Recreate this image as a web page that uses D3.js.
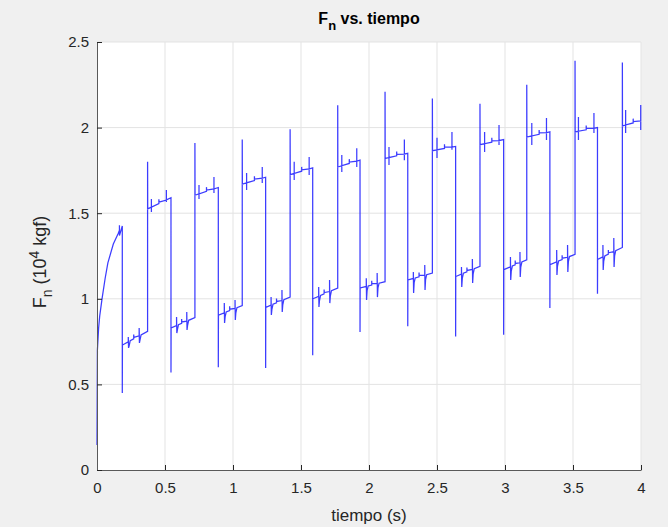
<!DOCTYPE html>
<html>
<head>
<meta charset="utf-8">
<script src="https://cdn.jsdelivr.net/npm/d3@7"></script>
<style>
  body { margin: 0; background: #f0f0f0; }
  svg { display: block; font-family: "Liberation Sans", Arial, Helvetica, sans-serif; }
</style>
</head>
<body>
<div id="chart"></div>
<script>
// initial ramp (s, 10^4 kgf)
var rampT = [0, 0.003, 0.012, 0.02, 0.037, 0.06, 0.08, 0.12, 0.155, 0.165, 0.165, 0.165, 0.186];
var rampV = [0.146, 0.70, 0.83, 0.90, 1.00, 1.12, 1.21, 1.32, 1.38, 1.40, 1.43, 1.37, 1.425];

// switching instants and the spike reached at each switch
var switchT = [0.186, 0.372, 0.544, 0.72, 0.892, 1.068, 1.24, 1.42, 1.586, 1.77, 1.934,
               2.118, 2.285, 2.466, 2.637, 2.816, 2.99, 3.16, 3.33, 3.515, 3.68, 3.863];
var spikeV = [0.45, 1.80, 0.57, 1.91, 0.60, 1.93, 0.596, 1.99, 0.67, 2.13, 0.806,
              2.21, 0.84, 2.17, 0.78, 2.14, 0.79, 2.25, 0.946, 2.39, 1.03, 2.38];

// level at the start and end of each segment following a switch
var segStart = [0.73, 1.525, 0.83, 1.605, 0.905, 1.67, 0.95, 1.725, 1.00, 1.77, 1.063,
                1.82, 1.11, 1.865, 1.13, 1.90, 1.17, 1.945, 1.20, 1.975, 1.23, 2.01];
var segEnd = [0.81, 1.59, 0.89, 1.65, 0.96, 1.71, 1.01, 1.765, 1.063, 1.81, 1.10,
              1.85, 1.15, 1.89, 1.19, 1.93, 1.227, 1.975, 1.26, 2.00, 1.30, 2.04];

// two small disturbances inside each segment: time, top, bottom
var tick1T = [0.23, 0.40, 0.585, 0.75, 0.936, 1.10, 1.28, 1.45, 1.63, 1.80, 1.98,
              2.147, 2.326, 2.50, 2.68, 2.85, 3.04, 3.197, 3.38, 3.54, 3.72, 3.887];
var tick1Top = [0.777, 1.583, 0.894, 1.665, 0.975, 1.735, 1.01, 1.80, 1.069, 1.84, 1.12,
                1.887, 1.157, 1.94, 1.186, 1.974, 1.244, 2.027, 1.285, 2.062, 1.314, 2.103];
var tick1Bot = [0.713, 1.507, 0.80, 1.583, 0.859, 1.636, 0.905, 1.694, 0.952, 1.74, 0.993,
                1.782, 1.034, 1.822, 1.069, 1.857, 1.11, 1.898, 1.139, 1.928, 1.168, 1.968];
var tick2T = [0.31, 0.51, 0.66, 0.86, 1.015, 1.215, 1.36, 1.56, 1.71, 1.91, 2.06,
              2.26, 2.41, 2.61, 2.76, 2.956, 3.11, 3.305, 3.46, 3.654, 3.80, 3.998];
var tick2Top = [0.83, 1.636, 0.923, 1.711, 0.993, 1.77, 1.051, 1.828, 1.11, 1.88, 1.15,
                1.93, 1.197, 1.974, 1.232, 2.015, 1.273, 2.056, 1.314, 2.085, 1.355, 2.132];
var tick2Bot = [0.742, 1.565, 0.818, 1.618, 0.876, 1.676, 0.923, 1.723, 0.975, 1.77, 1.01,
                1.81, 1.051, 1.87, 1.092, 1.898, 1.127, 1.928, 1.157, 1.968, 1.186, 1.986];

var xTicks = [0, 0.5, 1, 1.5, 2, 2.5, 3, 3.5, 4];
var yTicks = [0, 0.5, 1, 1.5, 2, 2.5];

var width = 668,
    height = 527,
    margin = {left: 97, right: 27, top: 42, bottom: 57};

var svg = d3.select('#chart')
    .append('svg')
    .attr('width', width)
    .attr('height', height);

svg.append('rect')
    .attr('width', width)
    .attr('height', height)
    .attr('fill', '#f0f0f0');

var x = d3.scaleLinear().domain([0, 4]).range([margin.left, width - margin.right]);
var y = d3.scaleLinear().domain([0, 2.5]).range([height - margin.bottom, margin.top]);

svg.append('rect')
    .attr('x', x(0))
    .attr('y', y(2.5))
    .attr('width', x(4) - x(0))
    .attr('height', y(0) - y(2.5))
    .attr('fill', '#fff');

// grid
svg.append('g').selectAll('line')
    .data(xTicks.slice(1))
    .enter().append('line')
    .attr('x1', function (d) { return x(d); })
    .attr('x2', function (d) { return x(d); })
    .attr('y1', y(0))
    .attr('y2', y(2.5))
    .attr('stroke', '#e3e3e3');

svg.append('g').selectAll('line')
    .data(yTicks.slice(1))
    .enter().append('line')
    .attr('x1', x(0))
    .attr('x2', x(4))
    .attr('y1', function (d) { return y(d); })
    .attr('y2', function (d) { return y(d); })
    .attr('stroke', '#e3e3e3');

// build the trace from the read values
var pts = [];
rampT.forEach(function (t, i) { pts.push([t, rampV[i]]); });

var lerp = function (i, t) {
    var t0 = switchT[i], t1 = i + 1 < switchT.length ? switchT[i + 1] : 4;
    return segStart[i] + (segEnd[i] - segStart[i]) * (t - t0) / (t1 - t0);
};

switchT.forEach(function (t0, i) {
    var low = i % 2 === 0;
    pts.push([t0, spikeV[i]]);
    pts.push([t0 + 0.001, segStart[i]]);
    [[tick1T[i], tick1Top[i], tick1Bot[i]], [tick2T[i], tick2Top[i], tick2Bot[i]]].forEach(function (k, j) {
        var b = lerp(i, k[0]);
        pts.push([k[0], b]);
        pts.push([k[0], k[1]]);
        if (low) {
            pts.push([k[0] + 0.002, k[2]]);
            pts.push([k[0] + 0.006, b - 0.025]);
            pts.push([k[0] + 0.014, lerp(i, k[0] + 0.014)]);
        } else {
            pts.push([k[0], k[2]]);
            pts.push([k[0], b]);
        }
        if (j === 0) {
            // small step between the two disturbances
            var tm = (tick1T[i] + tick2T[i]) / 2;
            pts.push([tm, lerp(i, tm)]);
            pts.push([tm, lerp(i, tm) + 0.025]);
            pts.push([tm + 0.001, lerp(i, tm) + 0.008]);
        }
    });
    var tEnd = i + 1 < switchT.length ? switchT[i + 1] : 4;
    pts.push([tEnd, segEnd[i]]);
});

var line = d3.line()
    .x(function (d) { return x(d[0]); })
    .y(function (d) { return y(d[1]); });

svg.append('path')
    .datum(pts)
    .attr('d', line)
    .attr('fill', 'none')
    .attr('stroke', '#1a1aff')
    .attr('stroke-width', 1.25)
    .attr('stroke-linejoin', 'miter')
    .attr('stroke-opacity', 0.85);

// axes (MATLAB style, inward ticks, no box)
var axisColor = '#262626';
var xAxis = svg.append('g')
    .attr('transform', 'translate(0,' + y(0) + ')')
    .call(d3.axisBottom(x).tickValues(xTicks).tickSizeInner(-5).tickSizeOuter(0)
        .tickFormat(d3.format('~g')).tickPadding(12));
var yAxis = svg.append('g')
    .attr('transform', 'translate(' + x(0) + ',0)')
    .call(d3.axisLeft(y).tickValues(yTicks).tickSizeInner(-5).tickSizeOuter(0)
        .tickFormat(d3.format('~g')).tickPadding(8));

[xAxis, yAxis].forEach(function (a) {
    a.select('.domain').attr('stroke', '#595959');
    a.selectAll('.tick line').attr('stroke', axisColor);
    a.selectAll('.tick text')
        .attr('fill', axisColor)
        .style('font-size', '15px');
});

// title
var title = svg.append('text')
    .attr('x', 369)
    .attr('y', 24)
    .attr('text-anchor', 'middle')
    .attr('fill', '#000')
    .style('font-size', '16px')
    .style('font-weight', 'bold');
title.append('tspan').text('F');
title.append('tspan').attr('dy', 6).style('font-size', '13px').text('n');
title.append('tspan').attr('dy', -6).text(' vs. tiempo');

// x label
svg.append('text')
    .attr('x', 369)
    .attr('y', 521)
    .attr('text-anchor', 'middle')
    .attr('fill', axisColor)
    .style('font-size', '17px')
    .text('tiempo (s)');

// y label
var yl = svg.append('text')
    .attr('transform', 'translate(46,' + 262 + ') rotate(-90)')
    .attr('text-anchor', 'middle')
    .attr('fill', axisColor)
    .style('font-size', '18px');
yl.append('tspan').text('F');
yl.append('tspan').attr('dy', 6).style('font-size', '14px').text('n');
yl.append('tspan').attr('dy', -6).text(' (10');
yl.append('tspan').attr('dy', -7).style('font-size', '14px').text('4');
yl.append('tspan').attr('dy', 7).text(' kgf)');
</script>
</body>
</html>
